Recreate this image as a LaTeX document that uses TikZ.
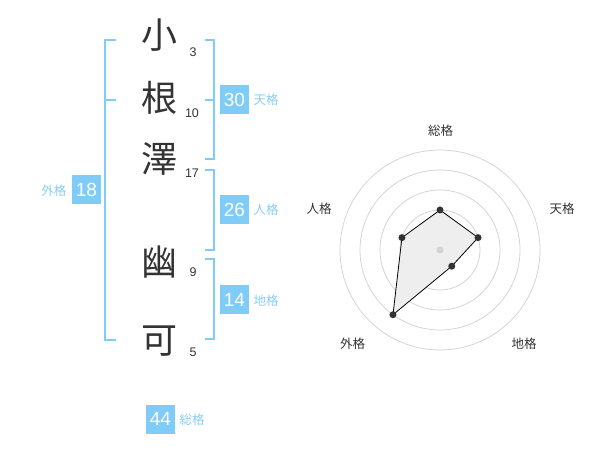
\documentclass[tikz,border=0pt]{standalone}
\usepackage{fontspec}
\usetikzlibrary{calc}
\setmainfont{Liberation Sans}
\newfontfamily\jp{Noto Sans CJK JP}
\definecolor{sky}{RGB}{128,204,248}
\definecolor{skytext}{RGB}{136,206,245}
\definecolor{ink}{RGB}{51,51,51}
\definecolor{ring}{RGB}{212,212,212}
\definecolor{area}{RGB}{238,238,238}
\tikzset{
  kanji/.style={inner sep=0pt, text=ink, font=\jp\fontsize{36}{36}\selectfont},
  strokes/.style={inner sep=0pt, text=ink, font=\fontsize{12.5}{12.5}\selectfont},
  bracket/.style={draw=sky, line width=2pt},
  valbox/.style={fill=sky, text=white, minimum size=29pt, inner sep=0pt, font=\fontsize{19}{19}\selectfont},
  kaku/.style={inner sep=0pt, text=skytext, font=\jp\fontsize{12.5}{12.5}\selectfont},
  axislabel/.style={inner sep=0pt, text=ink, font=\jp\fontsize{12.5}{12.5}\selectfont},
  ringline/.style={draw=ring, line width=0.8pt},
  dot/.style={circle, fill=ink, inner sep=0pt, minimum size=7pt},
}
\begin{document}
\begin{tikzpicture}[x=1pt,y=-1pt]
\useasboundingbox (0,0) rectangle (600,470);
% characters
\node[kanji] (c1) at (159,35) {小};
\node[kanji] (c2) at (159,98) {根};
\node[kanji] (c3) at (159,159) {澤};
\node[kanji] (c4) at (159,262) {幽};
\node[kanji] (c5) at (159,341) {可};
% stroke counts
\node[strokes] (n1) at (193,52.5) {3};
\node[strokes] (n2) at (192,113) {10};
\node[strokes] (n3) at (192,173) {17};
\node[strokes] (n4) at (193,272.5) {9};
\node[strokes] (n5) at (193,352) {5};
% brackets
\draw[bracket] (116,40) -- (105,40) -- (105,340) -- (116,340);
\draw[bracket] (105,100) -- (116,100);
\draw[bracket] (205,40) -- (214,40) -- (214,159) -- (205,159);
\draw[bracket] (205,100) -- (214,100);
\draw[bracket] (205,170) -- (214,170) -- (214,250) -- (205,250);
\draw[bracket] (205,259) -- (214,259) -- (214,339) -- (205,339);
% value boxes
\node[valbox] (ten) at (234.5,100) {30};
\node[kaku, anchor=west] (tenl) at (253.5,100) {天格};
\node[valbox] (jin) at (234.5,210) {26};
\node[kaku, anchor=west] (jinl) at (253.5,210) {人格};
\node[valbox] (chi) at (234.5,299.5) {14};
\node[kaku, anchor=west] (chil) at (253.5,301) {地格};
\node[valbox] (gai) at (86.5,190) {18};
\node[kaku] (gail) at (54,191) {外格};
\node[valbox] (sou) at (160.5,419) {44};
\node[kaku] (soul) at (192,420) {総格};
% radar
\coordinate (o) at (440,250);
\foreach \r in {20,40,60,80,100} \draw[ringline] (o) circle[radius=\r];
\coordinate (pS) at ($(o)+(-90:40)$);
\coordinate (pT) at ($(o)+(-18:40)$);
\coordinate (pC) at ($(o)+(54:20)$);
\coordinate (pG) at ($(o)+(126:80)$);
\coordinate (pJ) at ($(o)+(-162:40)$);
\filldraw[fill=area, draw=black, line width=0.8pt] (pS) -- (pT) -- (pC) -- (pG) -- (pJ) -- cycle;
\node[circle, fill=ring, inner sep=0pt, minimum size=7pt] (center) at (o) {};
\node[dot] (dS) at (pS) {};
\node[dot] (dT) at (pT) {};
\node[dot] (dC) at (pC) {};
\node[dot] (dG) at (pG) {};
\node[dot] (dJ) at (pJ) {};
\node[axislabel] (lS) at (440.5,131) {総格};
\node[axislabel] (lT) at (562,209) {天格};
\node[axislabel] (lC) at (524,344) {地格};
\node[axislabel] (lG) at (352.5,344) {外格};
\node[axislabel] (lJ) at (319,209) {人格};
\end{tikzpicture}
\end{document}
